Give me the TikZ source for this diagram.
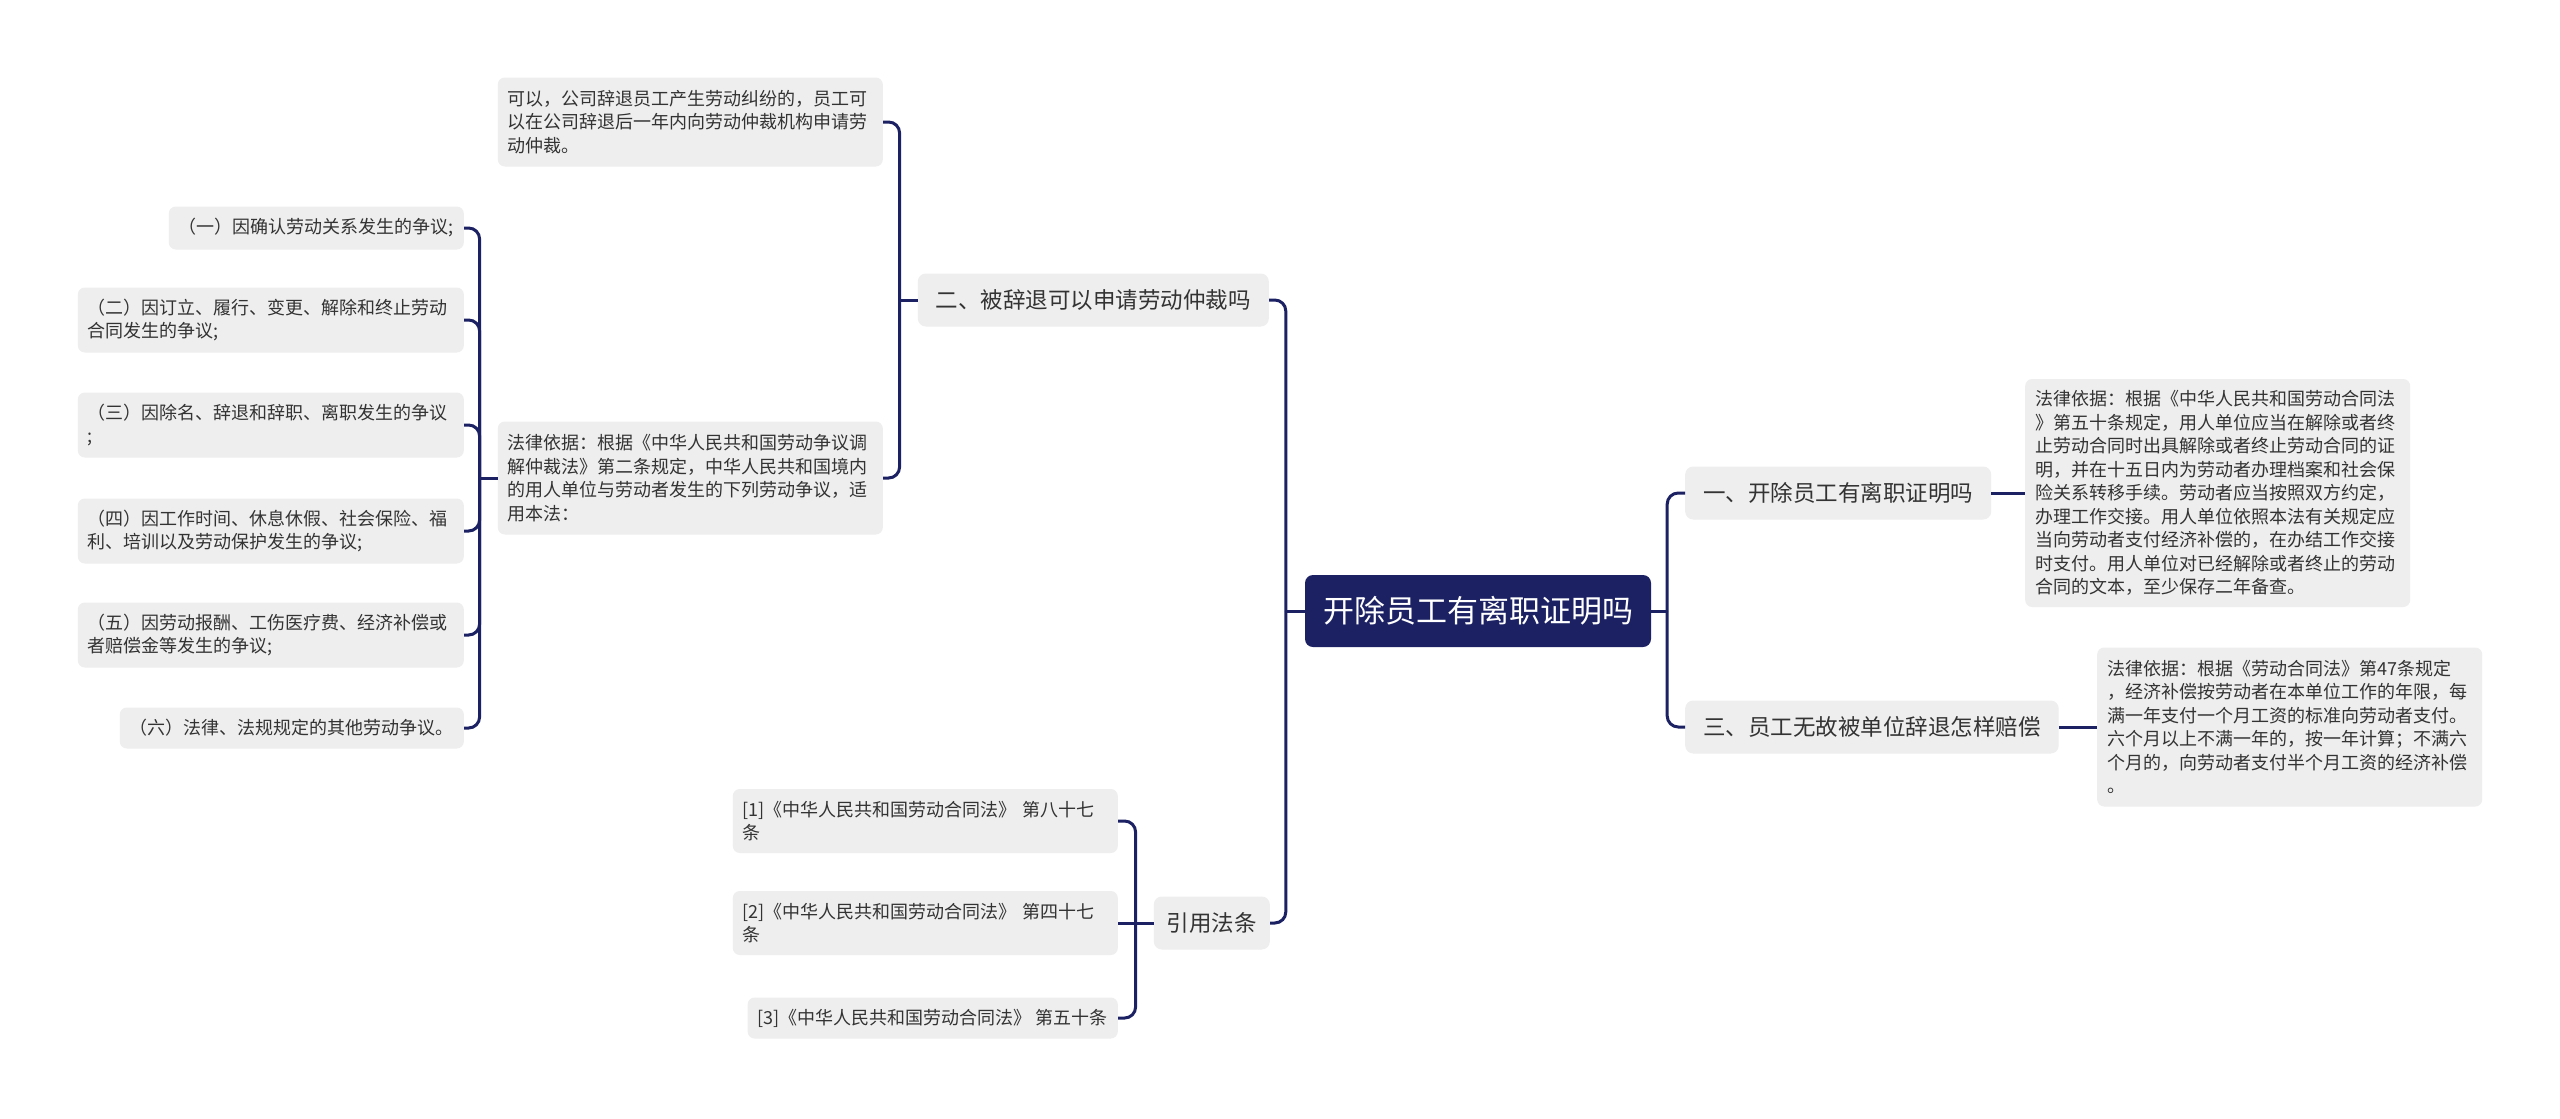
\documentclass[tikz,border=0pt]{standalone}
\usepackage{fontspec}
\setmainfont{Noto Sans CJK SC}
\definecolor{mapnavy}{HTML}{1B2163}
\definecolor{leafgray}{HTML}{EEEEEE}
\definecolor{inkgray}{HTML}{333333}

\begin{document}
\begin{tikzpicture}[x=1pt,y=-1pt,
	rootnode/.style={ fill=mapnavy, text=white, rounded corners=8pt, inner xsep=18pt, minimum height=72pt, font=\fontsize{31}{37}\selectfont },
	topic/.style={ fill=leafgray, text=inkgray, rounded corners=8pt, inner xsep=18pt, minimum height=53pt, font=\fontsize{22.5}{27}\selectfont },
	leaf/.style={ fill=leafgray, text=inkgray, rounded corners=7pt, inner xsep=10pt, inner ysep=4pt, align=left, font=\fontsize{18}{23.5}\selectfont },
	conn/.style={ mapnavy, line width=3pt, rounded corners=11pt }
]
\fill[white] (0,0) rectangle (2560,1119);
\useasboundingbox (0,0) rectangle (2560,1119);

\node at (1478,611) (root) [rootnode] {开除员工有离职证明吗};
\node at (1269,300) (arbit) [topic,anchor=east] {二、被辞退可以申请劳动仲裁吗};
\node at (1270,923) (refs) [topic,anchor=east,inner xsep=13pt] {引用法条};
\node at (1685,493) (cert) [topic,anchor=west] {一、开除员工有离职证明吗};
\node at (1685,727) (comp) [topic,anchor=west] {三、员工无故被单位辞退怎样赔偿};

\node at (883,122) (arbyes) [leaf,anchor=east,text width=365pt,minimum height=89pt] {可以，公司辞退员工产生劳动纠纷的，员工可\\以在公司辞退后一年内向劳动仲裁机构申请劳\\动仲裁。};
\node at (883,478) (arbbasis) [leaf,anchor=east,text width=365pt,minimum height=113pt] {法律依据：根据《中华人民共和国劳动争议调\\解仲裁法》第二条规定，中华人民共和国境内\\的用人单位与劳动者发生的下列劳动争议，适\\用本法：};

\node at (464,228) (dispA) [leaf,anchor=east,minimum height=43pt] {（一）因确认劳动关系发生的争议;};
\node at (464,320) (dispB) [leaf,anchor=east,text width=366pt,minimum height=65pt] {（二）因订立、履行、变更、解除和终止劳动\\合同发生的争议;};
\node at (464,425) (dispC) [leaf,anchor=east,text width=366pt,minimum height=65pt] {（三）因除名、辞退和辞职、离职发生的争议\\;};
\node at (464,531) (dispD) [leaf,anchor=east,text width=366pt,minimum height=65pt] {（四）因工作时间、休息休假、社会保险、福\\利、培训以及劳动保护发生的争议;};
\node at (464,635) (dispE) [leaf,anchor=east,text width=366pt,minimum height=65pt] {（五）因劳动报酬、工伤医疗费、经济补偿或\\者赔偿金等发生的争议;};
\node at (464,728) (dispF) [leaf,anchor=east,minimum height=41pt] {（六）法律、法规规定的其他劳动争议。};

\node at (2025,493) (certbasis) [leaf,anchor=west,text width=365pt,minimum height=228pt] {法律依据：根据《中华人民共和国劳动合同法\\》第五十条规定，用人单位应当在解除或者终\\止劳动合同时出具解除或者终止劳动合同的证\\明，并在十五日内为劳动者办理档案和社会保\\险关系转移手续。劳动者应当按照双方约定，\\办理工作交接。用人单位依照本法有关规定应\\当向劳动者支付经济补偿的，在办结工作交接\\时支付。用人单位对已经解除或者终止的劳动\\合同的文本，至少保存二年备查。};
\node at (2097,727) (compbasis) [leaf,anchor=west,text width=365pt,minimum height=159pt] {法律依据：根据《劳动合同法》第47条规定\\，经济补偿按劳动者在本单位工作的年限，每\\满一年支付一个月工资的标准向劳动者支付。\\六个月以上不满一年的，按一年计算；不满六\\个月的，向劳动者支付半个月工资的经济补偿\\。};

\node at (1118,821) (refA) [leaf,anchor=east,text width=365pt,minimum height=64pt] {[1]《中华人民共和国劳动合同法》 第八十七\\条};
\node at (1118,923) (refB) [leaf,anchor=east,text width=365pt,minimum height=64pt] {[2]《中华人民共和国劳动合同法》 第四十七\\条};
\node at (1118,1018) (refC) [leaf,anchor=east,minimum height=41pt] {[3]《中华人民共和国劳动合同法》 第五十条};

\draw[conn] (root.west) -- ++(-19,0) coordinate (jroot);
\draw[conn] (jroot) |- (arbit.east);
\draw[conn] (jroot) |- (refs.east);
\draw[conn] (root.east) -- ++(16,0) coordinate (jright);
\draw[conn] (jright) |- (cert.west);
\draw[conn] (jright) |- (comp.west);
\draw[conn] (cert.east) -- (certbasis.west);
\draw[conn] (comp.east) -- (compbasis.west);

\draw[conn] (arbit.west) -- ++(-18,0) coordinate (jarbit);
\draw[conn] (jarbit) |- (arbyes.east);
\draw[conn] (jarbit) |- (arbbasis.east);
\draw[conn] (arbbasis.west) -- ++(-18,0) coordinate (jbasis);
\draw[conn] (jbasis) |- (dispA.east);
\draw[conn] (jbasis) |- (dispB.east);
\draw[conn] (jbasis) |- (dispC.east);
\draw[conn] (jbasis) |- (dispD.east);
\draw[conn] (jbasis) |- (dispE.east);
\draw[conn] (jbasis) |- (dispF.east);

\draw[conn] (refs.west) -- ++(-18,0) coordinate (jrefs);
\draw[conn] (jrefs) |- (refA.east);
\draw[conn] (jrefs) -- (refB.east);
\draw[conn] (jrefs) |- (refC.east);

\end{tikzpicture}
\end{document}
